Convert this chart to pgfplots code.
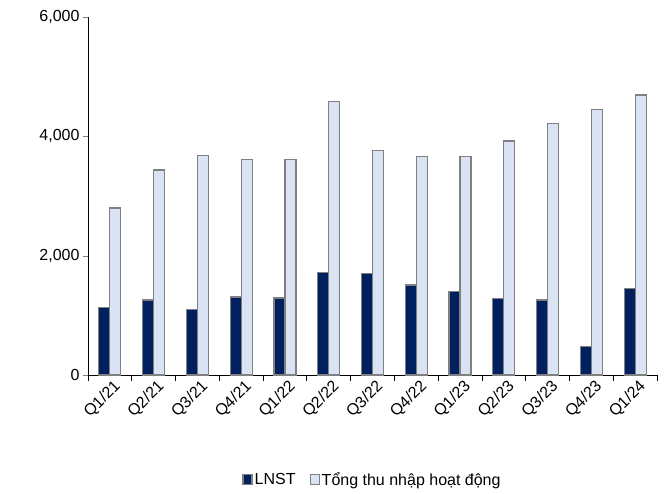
\documentclass[border=0pt]{standalone}
\usepackage{pgfplots}
\pgfplotsset{compat=1.18}
\usepackage{fontspec}
\setmainfont{Liberation Sans}
\definecolor{navy}{RGB}{0,32,96}
\definecolor{lb}{RGB}{218,227,243}
\begin{document}
\begin{tikzpicture}
\begin{axis}[
 width=569pt, height=358pt, scale only axis,
 ymin=0, ymax=6000, ytick={0,2000,4000,6000},
 /pgf/number format/assume math mode=true,
 /pgf/number format/1000 sep={,},
 xmin=-0.5, xmax=12.5,
 xtick={0,...,12},
 xticklabels={Q1/21,Q2/21,Q3/21,Q4/21,Q1/22,Q2/22,Q3/22,Q4/22,Q1/23,Q2/23,Q3/23,Q4/23,Q1/24},
 x tick label style={rotate=45, anchor=north east, inner sep=1pt, xshift=4pt, font=\fontsize{16}{16}\selectfont},
 y tick label style={font=\fontsize{16}{16}\selectfont},
 major x tick style={draw=none},
 minor xtick={-0.5,0.5,...,12.5},
 minor x tick style={black, thick},
 minor tick length=6pt,
 tick align=outside, tick pos=left,
 major tick length=5pt,
 axis line style={black, thick},
 axis x line*=bottom, axis y line*=left,
 ybar, bar width=11pt,
 legend style={at={(0.5,-0.293)}, anchor=center, draw=none, legend columns=2, font=\fontsize{16}{16}\selectfont, /tikz/every even column/.append style={column sep=12pt}},
 legend image code/.code={\draw[#1] (0pt,-5pt) rectangle (9pt,5pt);},
]
\addplot[fill=navy, draw=gray, very thick, bar shift=-5.5pt] coordinates {(0,1127)(1,1256)(2,1099)(3,1307)(4,1290)(5,1718)(6,1701)(7,1510)(8,1403)(9,1285)(10,1256)(11,479)(12,1454)};
\addplot[fill=lb, draw=gray, very thick, bar shift=5.5pt] coordinates {(0,2800)(1,3437)(2,3679)(3,3611)(4,3617)(5,4580)(6,3769)(7,3668)(8,3662)(9,3921)(10,4220)(11,4451)(12,4693)};
\legend{LNST, Tổng thu nhập hoạt động}
\end{axis}
\useasboundingbox ([shift={(-88pt,-118pt)}]current axis.south west) rectangle ([shift={(10pt,17pt)}]current axis.north east);
\end{tikzpicture}
\end{document}
